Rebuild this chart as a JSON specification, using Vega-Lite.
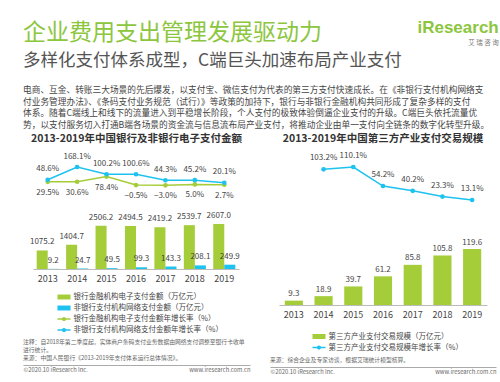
{
  "$schema": "https://vega.github.io/schema/vega-lite/v6.json",
  "background": "white",
  "padding": {"left": 20, "top": 19, "right": 0, "bottom": 0},
  "config": {
    "font": "Noto Sans CJK SC",
    "view": {"stroke": null},
    "axis": {"grid": false},
    "concat": {"spacing": 14}
  },
  "resolve": {"scale": {"color": "independent", "x": "independent", "y": "independent"}, "legend": {"color": "independent"}},
  "datasets": {
    "leftBars": [
      {"year": "2013", "series": "银行金融机构电子支付金额（万亿元）", "value": 1075.2},
      {"year": "2014", "series": "银行金融机构电子支付金额（万亿元）", "value": 1404.7},
      {"year": "2015", "series": "银行金融机构电子支付金额（万亿元）", "value": 2506.2},
      {"year": "2016", "series": "银行金融机构电子支付金额（万亿元）", "value": 2494.5},
      {"year": "2017", "series": "银行金融机构电子支付金额（万亿元）", "value": 2419.2},
      {"year": "2018", "series": "银行金融机构电子支付金额（万亿元）", "value": 2539.7},
      {"year": "2019", "series": "银行金融机构电子支付金额（万亿元）", "value": 2607.0},
      {"year": "2013", "series": "非银行支付机构网络支付金额（万亿元）", "value": 9.2},
      {"year": "2014", "series": "非银行支付机构网络支付金额（万亿元）", "value": 24.7},
      {"year": "2015", "series": "非银行支付机构网络支付金额（万亿元）", "value": 49.5},
      {"year": "2016", "series": "非银行支付机构网络支付金额（万亿元）", "value": 99.3},
      {"year": "2017", "series": "非银行支付机构网络支付金额（万亿元）", "value": 143.3},
      {"year": "2018", "series": "非银行支付机构网络支付金额（万亿元）", "value": 208.1},
      {"year": "2019", "series": "非银行支付机构网络支付金额（万亿元）", "value": 249.9}
    ],
    "leftLines": [
      {"year": "2013", "series": "银行金融机构电子支付金额年增长率（%）", "growth": 0.295},
      {"year": "2014", "series": "银行金融机构电子支付金额年增长率（%）", "growth": 0.306},
      {"year": "2015", "series": "银行金融机构电子支付金额年增长率（%）", "growth": 0.784},
      {"year": "2016", "series": "银行金融机构电子支付金额年增长率（%）", "growth": -0.005},
      {"year": "2017", "series": "银行金融机构电子支付金额年增长率（%）", "growth": -0.030},
      {"year": "2018", "series": "银行金融机构电子支付金额年增长率（%）", "growth": 0.050},
      {"year": "2019", "series": "银行金融机构电子支付金额年增长率（%）", "growth": 0.027},
      {"year": "2013", "series": "非银行支付机构网络支付金额年增长率（%）", "growth": 0.486},
      {"year": "2014", "series": "非银行支付机构网络支付金额年增长率（%）", "growth": 1.681},
      {"year": "2015", "series": "非银行支付机构网络支付金额年增长率（%）", "growth": 1.002},
      {"year": "2016", "series": "非银行支付机构网络支付金额年增长率（%）", "growth": 1.006},
      {"year": "2017", "series": "非银行支付机构网络支付金额年增长率（%）", "growth": 0.443},
      {"year": "2018", "series": "非银行支付机构网络支付金额年增长率（%）", "growth": 0.452},
      {"year": "2019", "series": "非银行支付机构网络支付金额年增长率（%）", "growth": 0.201}
    ],
    "rightBars": [
      {"year": "2013", "series": "第三方产业支付交易规模（万亿元）", "value": 9.3},
      {"year": "2014", "series": "第三方产业支付交易规模（万亿元）", "value": 18.9},
      {"year": "2015", "series": "第三方产业支付交易规模（万亿元）", "value": 39.7},
      {"year": "2016", "series": "第三方产业支付交易规模（万亿元）", "value": 61.2},
      {"year": "2017", "series": "第三方产业支付交易规模（万亿元）", "value": 85.8},
      {"year": "2018", "series": "第三方产业支付交易规模（万亿元）", "value": 105.8},
      {"year": "2019", "series": "第三方产业支付交易规模（万亿元）", "value": 119.6}
    ],
    "rightLines": [
      {"year": "2014", "series": "第三方产业支付交易规模年增长率（%）", "growth": 1.032},
      {"year": "2015", "series": "第三方产业支付交易规模年增长率（%）", "growth": 1.101},
      {"year": "2016", "series": "第三方产业支付交易规模年增长率（%）", "growth": 0.542},
      {"year": "2017", "series": "第三方产业支付交易规模年增长率（%）", "growth": 0.402},
      {"year": "2018", "series": "第三方产业支付交易规模年增长率（%）", "growth": 0.233},
      {"year": "2019", "series": "第三方产业支付交易规模年增长率（%）", "growth": 0.131}
    ]
  },
  "title": {
    "text": "iResearch",
    "subtitle": "艾   瑞   咨   询",
    "anchor": "end",
    "frame": "bounds",
    "font": "Liberation Sans",
    "fontSize": 17,
    "fontWeight": "bold",
    "color": "#8CC63E",
    "subtitleFont": "Noto Sans CJK SC",
    "subtitleFontSize": 6.5,
    "subtitleColor": "#777777",
    "subtitlePadding": 3,
    "offset": -26
  },
  "vconcat": [
    {
      "title": {
        "text": "企业费用支出管理发展驱动力",
        "subtitle": "多样化支付体系成型，C端巨头加速布局产业支付",
        "anchor": "start",
        "frame": "group",
        "fontSize": 23,
        "fontWeight": "normal",
        "color": "#8CC63E",
        "subtitleFontSize": 17.5,
        "subtitleColor": "#555555",
        "subtitlePadding": 7.25,
        "offset": 16.5
      },
      "resolve": {"scale": {"color": "independent", "x": "independent", "y": "independent"}, "legend": {"color": "independent"}},
      "vconcat": [
        {
          "title": {
            "text": [
              "电商、互金、转账三大场景的先后爆发，以支付宝、微信支付为代表的第三方支付快速成长。在《非银行支付机构网络支",
              "付业务管理办法》、《条码支付业务规范（试行）》等政策的加持下，银行与非银行金融机构共同形成了复杂多样的支付",
              "体系。随着C端线上和线下的流量进入到平稳增长阶段，个人支付的极致体验倒逼企业支付的升级。C端巨头依托流量优",
              "势，以支付服务切入打通B端各场景的资金流与信息流布局产业支付，将推动企业由单一支付向全链条的数字化转型升级。"
            ],
            "anchor": "start",
            "frame": "group",
            "fontSize": 8.7,
            "lineHeight": 11.8,
            "fontWeight": "normal",
            "color": "#444444",
            "offset": 3.5
          },
          "resolve": {"scale": {"color": "independent", "x": "independent", "y": "independent"}, "legend": {"color": "independent"}},
          "hconcat": [
            {
              "spacing": 4,
              "resolve": {"scale": {"color": "independent", "x": "independent", "y": "independent"}, "legend": {"color": "independent"}},
              "vconcat": [
                {
                  "width": 227,
                  "height": 117,
                  "title": {"text": "2013-2019年中国银行及非银行电子支付金额", "fontSize": 10.5, "fontWeight": "bold", "color": "#333333", "anchor": "middle", "offset": 8},
                  "resolve": {"scale": {"y": "independent"}},
                  "layer": [
                    {
                      "data": {"name": "leftBars"},
                      "mark": {"type": "bar"},
                      "encoding": {
                        "x": {"field": "year", "type": "ordinal", "scale": {"range": [10, 216], "paddingInner": 0.25, "paddingOuter": 0.125},
                          "axis": {"title": null, "ticks": false, "labelAngle": 0, "labelFontSize": 9, "labelColor": "#444444", "labelPadding": 5, "domainColor": "#bbbbbb"}},
                        "xOffset": {"field": "series", "type": "nominal", "sort": null},
                        "y": {"field": "value", "type": "quantitative", "scale": {"domain": [0, 6778]}, "axis": null},
                        "color": {"field": "series", "type": "nominal",
                          "scale": {"domain": ["银行金融机构电子支付金额（万亿元）", "非银行支付机构网络支付金额（万亿元）", "银行金融机构电子支付金额年增长率（%）", "非银行支付机构网络支付金额年增长率（%）"], "range": ["#A5CD39", "#1DC2F0", "#A5CD39", "#1DC2F0"]},
                          "legend": {"orient": "none", "legendX": 34, "legendY": 138, "title": null, "direction": "vertical", "symbolSize": 170, "labelFontSize": 7.5, "labelColor": "#444444", "rowPadding": -1.6, "labelOffset": 2.5, "labelLimit": 300,
                            "encode": {"symbols": {"update": {
                              "shape": {"signal": "indexof(datum.value,'增长率')>=0 ? 'M-1,-0.1H1V0.1H-1Z M0.32,0A0.32,0.32,0,1,1,-0.32,0A0.32,0.32,0,1,1,0.32,0Z' : 'M-1,-0.38H1V0.38H-1Z'"},
                              "fill": {"signal": "indexof(datum.value,'非银行')>=0 ? '#1DC2F0' : '#A5CD39'"},
                              "stroke": {"value": "transparent"},
                              "strokeWidth": {"value": 0},
                              "opacity": {"value": 1}
                            }}}}}
                      }
                    },
                    {
                      "data": {"name": "leftBars"},
                      "mark": {"type": "text", "baseline": "middle", "dy": -8, "fontSize": 8, "color": "#444444"},
                      "encoding": {
                        "x": {"field": "year", "type": "ordinal"},
                        "xOffset": {"field": "series", "type": "nominal", "sort": null},
                        "y": {"field": "value", "type": "quantitative", "scale": {"domain": [0, 6778]}, "axis": null},
                        "text": {"field": "value", "type": "quantitative", "format": ".1f"}
                      }
                    },
                    {
                      "data": {"name": "leftLines"},
                      "mark": {"type": "line", "strokeWidth": 1.5},
                      "encoding": {
                        "x": {"field": "year", "type": "ordinal"},
                        "y": {"field": "growth", "type": "quantitative", "scale": {"domain": [-7.845, 3.082]}, "axis": null},
                        "color": {"field": "series", "type": "nominal"}
                      }
                    },
                    {
                      "data": {"name": "leftLines"},
                      "mark": {"type": "point", "filled": true, "size": 22, "opacity": 1},
                      "encoding": {
                        "x": {"field": "year", "type": "ordinal"},
                        "y": {"field": "growth", "type": "quantitative", "scale": {"domain": [-7.845, 3.082]}, "axis": null},
                        "color": {"field": "series", "type": "nominal"}
                      }
                    },
                    {
                      "data": {"name": "leftLines"},
                      "transform": [{"filter": "indexof(datum.series,'非银行')>=0"}],
                      "mark": {"type": "text", "baseline": "middle", "dy": -10.5, "fontSize": 8, "color": "#444444"},
                      "encoding": {
                        "x": {"field": "year", "type": "ordinal"},
                        "y": {"field": "growth", "type": "quantitative", "scale": {"domain": [-7.845, 3.082]}, "axis": null},
                        "text": {"field": "growth", "type": "quantitative", "format": ".1%"}
                      }
                    },
                    {
                      "data": {"name": "leftLines"},
                      "transform": [{"filter": "indexof(datum.series,'非银行')<0"}],
                      "mark": {"type": "text", "baseline": "middle", "dy": 11, "fontSize": 8, "color": "#444444"},
                      "encoding": {
                        "x": {"field": "year", "type": "ordinal"},
                        "y": {"field": "growth", "type": "quantitative", "scale": {"domain": [-7.845, 3.082]}, "axis": null},
                        "text": {"field": "growth", "type": "quantitative", "format": ".1%"}
                      }
                    }
                  ]
                },
                {
                  "width": 227,
                  "height": 1,
                  "title": {"text": ["注释：自2018年第二季度起，实体商户条码支付业务数据由网络支付调整至银行卡收单", "进行统计。", "来源：中国人民银行《2013-2019年支付体系运行总体情况》。"], "fontSize": 5.8, "lineHeight": 8, "color": "#666666", "fontWeight": "normal", "anchor": "start", "frame": "group", "offset": 1},
                  "data": {"values": [{"site": "©2020.10 iResearch Inc."}, {"site": "www.iresearch.com.cn"}]},
                  "mark": {"type": "point", "opacity": 0},
                  "encoding": {
                    "x": {"field": "site", "type": "ordinal", "sort": null, "scale": {"type": "point", "padding": 0},
                      "axis": {"orient": "bottom", "title": null, "ticks": false, "domainColor": "#aaaaaa", "labelFontSize": 5.8, "labelColor": "#666666", "labelAngle": 0, "labelPadding": 1.5,
                        "labelAlign": {"condition": {"test": "datum.value == 'www.iresearch.com.cn'", "value": "right"}, "value": "left"}}}
                  }
                }
              ]
            },
            {
              "spacing": 4,
              "resolve": {"scale": {"color": "independent", "x": "independent", "y": "independent"}, "legend": {"color": "independent"}},
              "vconcat": [
                {
                  "width": 226,
                  "height": 153,
                  "title": {"text": "2013-2019年中国第三方产业支付交易规模", "fontSize": 10.5, "fontWeight": "bold", "color": "#333333", "anchor": "middle", "offset": 8},
                  "resolve": {"scale": {"y": "independent"}},
                  "layer": [
                    {
                      "data": {"name": "rightBars"},
                      "mark": {"type": "bar"},
                      "encoding": {
                        "x": {"field": "year", "type": "ordinal", "scale": {"domain": ["2013", "2014", "2015", "2016", "2017", "2018", "2019"], "range": [9, 217], "paddingInner": 0.39, "paddingOuter": 0.195},
                          "axis": {"title": null, "ticks": false, "labelAngle": 0, "labelFontSize": 9, "labelColor": "#444444", "labelPadding": 5, "domainColor": "#bbbbbb"}},
                        "y": {"field": "value", "type": "quantitative", "scale": {"domain": [0, 326.8]}, "axis": null},
                        "color": {"field": "series", "type": "nominal",
                          "scale": {"domain": ["第三方产业支付交易规模（万亿元）", "第三方产业支付交易规模年增长率（%）"], "range": ["#A5CD39", "#1DC2F0"]},
                          "legend": {"orient": "none", "legendX": 42, "legendY": 177.5, "title": null, "direction": "vertical", "symbolSize": 170, "labelFontSize": 7.5, "labelColor": "#444444", "rowPadding": -2, "labelOffset": 2.5, "labelLimit": 300,
                            "encode": {"symbols": {"update": {
                              "shape": {"signal": "indexof(datum.value,'增长率')>=0 ? 'M-1,-0.1H1V0.1H-1Z M0.32,0A0.32,0.32,0,1,1,-0.32,0A0.32,0.32,0,1,1,0.32,0Z' : 'M-1,-0.38H1V0.38H-1Z'"},
                              "fill": {"signal": "indexof(datum.value,'增长率')>=0 ? '#1DC2F0' : '#A5CD39'"},
                              "stroke": {"value": "transparent"},
                              "strokeWidth": {"value": 0},
                              "opacity": {"value": 1}
                            }}}}}
                      }
                    },
                    {
                      "data": {"name": "rightBars"},
                      "mark": {"type": "text", "baseline": "middle", "dy": -6.5, "fontSize": 8, "color": "#444444"},
                      "encoding": {
                        "x": {"field": "year", "type": "ordinal"},
                        "y": {"field": "value", "type": "quantitative", "scale": {"domain": [0, 326.8]}, "axis": null},
                        "text": {"field": "value", "type": "quantitative", "format": ".1f"}
                      }
                    },
                    {
                      "data": {"name": "rightLines"},
                      "mark": {"type": "line", "strokeWidth": 1.5},
                      "encoding": {
                        "x": {"field": "year", "type": "ordinal"},
                        "y": {"field": "growth", "type": "quantitative", "scale": {"domain": [-2.955, 1.542]}, "axis": null},
                        "color": {"field": "series", "type": "nominal"}
                      }
                    },
                    {
                      "data": {"name": "rightLines"},
                      "mark": {"type": "point", "filled": true, "size": 22, "opacity": 1},
                      "encoding": {
                        "x": {"field": "year", "type": "ordinal"},
                        "y": {"field": "growth", "type": "quantitative", "scale": {"domain": [-2.955, 1.542]}, "axis": null},
                        "color": {"field": "series", "type": "nominal"}
                      }
                    },
                    {
                      "data": {"name": "rightLines"},
                      "mark": {"type": "text", "baseline": "middle", "dy": -11, "fontSize": 8, "color": "#444444"},
                      "encoding": {
                        "x": {"field": "year", "type": "ordinal"},
                        "y": {"field": "growth", "type": "quantitative", "scale": {"domain": [-2.955, 1.542]}, "axis": null},
                        "text": {"field": "growth", "type": "quantitative", "format": ".1%"}
                      }
                    }
                  ]
                },
                {
                  "width": 226,
                  "height": 1,
                  "title": {"text": ["来源：综合企业及专家访谈，根据艾瑞统计模型核算。"], "fontSize": 5.8, "lineHeight": 8, "color": "#666666", "fontWeight": "normal", "anchor": "start", "frame": "group", "offset": 1},
                  "data": {"values": [{"site": "©2020.10 iResearch Inc."}, {"site": "www.iresearch.com.cn"}]},
                  "mark": {"type": "point", "opacity": 0},
                  "encoding": {
                    "x": {"field": "site", "type": "ordinal", "sort": null, "scale": {"type": "point", "padding": 0},
                      "axis": {"orient": "bottom", "title": null, "ticks": false, "domainColor": "#aaaaaa", "labelFontSize": 5.8, "labelColor": "#666666", "labelAngle": 0, "labelPadding": 1.5,
                        "labelAlign": {"condition": {"test": "datum.value == 'www.iresearch.com.cn'", "value": "right"}, "value": "left"}}}
                  }
                }
              ]
            }
          ]
        }
      ]
    }
  ]
}
